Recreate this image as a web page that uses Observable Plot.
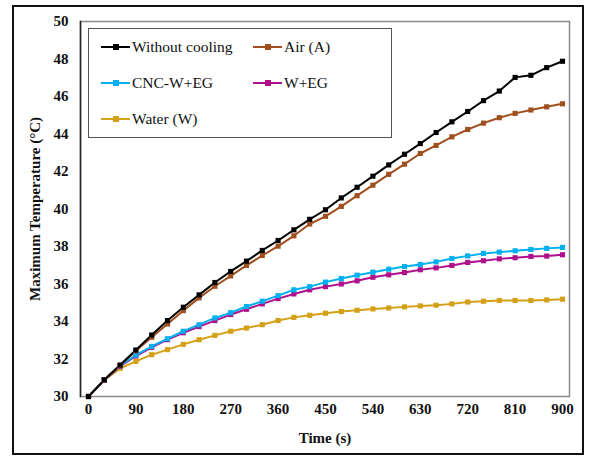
<!DOCTYPE html>
<html>
<head>
<meta charset="utf-8">
<script src="https://cdn.jsdelivr.net/npm/d3@7"></script>
<script src="https://cdn.jsdelivr.net/npm/@observablehq/plot@0.6"></script>
<style>
  body { margin: 0; background: #fff; }
  #wrap { position: relative; width: 593px; height: 459px; overflow: hidden; }
  #border { position: absolute; left: 12px; top: 5px; width: 572px; height: 450px; border: 2px solid #111; box-sizing: border-box; pointer-events: none; }
  #legend { position: absolute; left: 88px; top: 28px; width: 304px; height: 110px; border: 1.5px solid #555; box-sizing: border-box; background: #fff; font-family: "Liberation Serif", "Times New Roman", serif; font-size: 15.5px; color: #111; }
  .item { position: absolute; display: flex; align-items: center; height: 20px; }
  .sw { position: relative; width: 29px; height: 20px; margin-right: 2px; }
  .sw .ln { position: absolute; left: 0; right: 0; top: 9px; height: 2px; }
  .sw .mk { position: absolute; left: 12px; top: 7px; width: 6px; height: 6px; }
</style>
</head>
<body>
<div id="wrap">
  <div id="chart"></div>
  <div id="legend"></div>
  <div id="border"></div>
</div>
<script>
const times = d3.range(0, 901, 30);
const seriesNames = ["Without cooling", "Air (A)", "CNC-W+EG", "W+EG", "Water (W)"];
const seriesColors = ["#000000", "#A0501E", "#00B0F0", "#B0108C", "#D4A017"];

const withoutCooling = [30, 30.89, 31.68, 32.48, 33.28, 34.05, 34.76, 35.42, 36.08, 36.67, 37.22, 37.79, 38.32, 38.89, 39.45, 39.96, 40.59, 41.16, 41.75, 42.35, 42.92, 43.49, 44.08, 44.65, 45.2, 45.78, 46.29, 47.02, 47.13, 47.54, 47.88];
const airA = [30, 30.89, 31.65, 32.44, 33.16, 33.87, 34.58, 35.26, 35.88, 36.43, 36.99, 37.52, 38.02, 38.57, 39.2, 39.61, 40.14, 40.71, 41.27, 41.85, 42.39, 42.96, 43.39, 43.85, 44.24, 44.58, 44.87, 45.1, 45.28, 45.45, 45.61];
const cncWEG = [30, 30.89, 31.64, 32.21, 32.67, 33.08, 33.48, 33.83, 34.19, 34.47, 34.8, 35.08, 35.38, 35.69, 35.86, 36.1, 36.29, 36.47, 36.63, 36.79, 36.93, 37.04, 37.18, 37.36, 37.5, 37.63, 37.7, 37.77, 37.84, 37.9, 37.95];
const wEG = [30, 30.87, 31.6, 32.16, 32.62, 33.03, 33.4, 33.73, 34.05, 34.37, 34.65, 34.94, 35.22, 35.47, 35.69, 35.86, 36.0, 36.17, 36.36, 36.49, 36.61, 36.76, 36.86, 36.99, 37.15, 37.24, 37.34, 37.4, 37.47, 37.49, 37.56];
const waterW = [30, 30.87, 31.5, 31.87, 32.23, 32.5, 32.78, 33.03, 33.26, 33.48, 33.65, 33.83, 34.05, 34.22, 34.33, 34.44, 34.53, 34.6, 34.67, 34.72, 34.78, 34.83, 34.87, 34.94, 35.04, 35.08, 35.12, 35.12, 35.12, 35.15, 35.19];

const xTicks = [0, 90, 180, 270, 360, 450, 540, 630, 720, 810, 900];
const yTicks = [30, 32, 34, 36, 38, 40, 42, 44, 46, 48, 50];

const allSeries = [withoutCooling, airA, cncWEG, wEG, waterW];
const data = [];
allSeries.forEach((vals, si) => vals.forEach((v, i) => data.push({series: seriesNames[si], t: times[i], T: v})));
// draw in reverse order so "Without cooling" is on top
const drawData = data.slice().sort((a, b) => seriesNames.indexOf(b.series) - seriesNames.indexOf(a.series));

const font = "'Liberation Serif', 'Times New Roman', serif";

const chart = Plot.plot({
  width: 593,
  height: 459,
  marginLeft: 80,
  marginRight: 24,
  marginTop: 21,
  marginBottom: 63,
  style: {fontFamily: font, fontSize: "15px", fontWeight: "bold", color: "#111", background: "transparent"},
  x: {domain: [0, 900], insetLeft: 8, insetRight: 7},
  y: {domain: [30, 50]},
  color: {domain: seriesNames, range: seriesColors},
  marks: [
    Plot.frame({stroke: "#8a8a8a", strokeWidth: 1.5}),
    Plot.frame({anchor: "left", stroke: "#222", strokeWidth: 1.5}),
    Plot.line(drawData, {x: "t", y: "T", z: "series", stroke: "series", strokeWidth: 2}),
    Plot.dot(drawData, {x: "t", y: "T", fill: "series", symbol: "square", r: 2.9}),
    Plot.axisX({ticks: xTicks, tickSize: 0, tickPadding: 7, tickFormat: d3.format("d"), fontWeight: "bold", fontSize: 15,
      label: "Time (s)", labelAnchor: "center", labelArrow: "none", labelOffset: 46}),
    Plot.axisY({ticks: yTicks, tickSize: 0, tickPadding: 12, tickFormat: d3.format("d"), fontWeight: "bold", fontSize: 15,
      label: "Maximum Temperature (°C)", labelAnchor: "center", labelArrow: "none", labelOffset: 51})
  ]
});
document.getElementById("chart").appendChild(chart);

// legend
const legend = document.getElementById("legend");
const pos = [[12, 8], [164, 8], [12, 44], [164, 44], [12, 80]];
seriesNames.forEach((name, i) => {
  const it = document.createElement("div");
  it.className = "item";
  it.style.left = pos[i][0] + "px";
  it.style.top = pos[i][1] + "px";
  const sw = document.createElement("div");
  sw.className = "sw";
  const ln = document.createElement("div"); ln.className = "ln"; ln.style.background = seriesColors[i];
  const mk = document.createElement("div"); mk.className = "mk"; mk.style.background = seriesColors[i];
  sw.appendChild(ln); sw.appendChild(mk);
  const tx = document.createElement("span"); tx.textContent = name;
  it.appendChild(sw); it.appendChild(tx);
  legend.appendChild(it);
});
</script>
</body>
</html>
